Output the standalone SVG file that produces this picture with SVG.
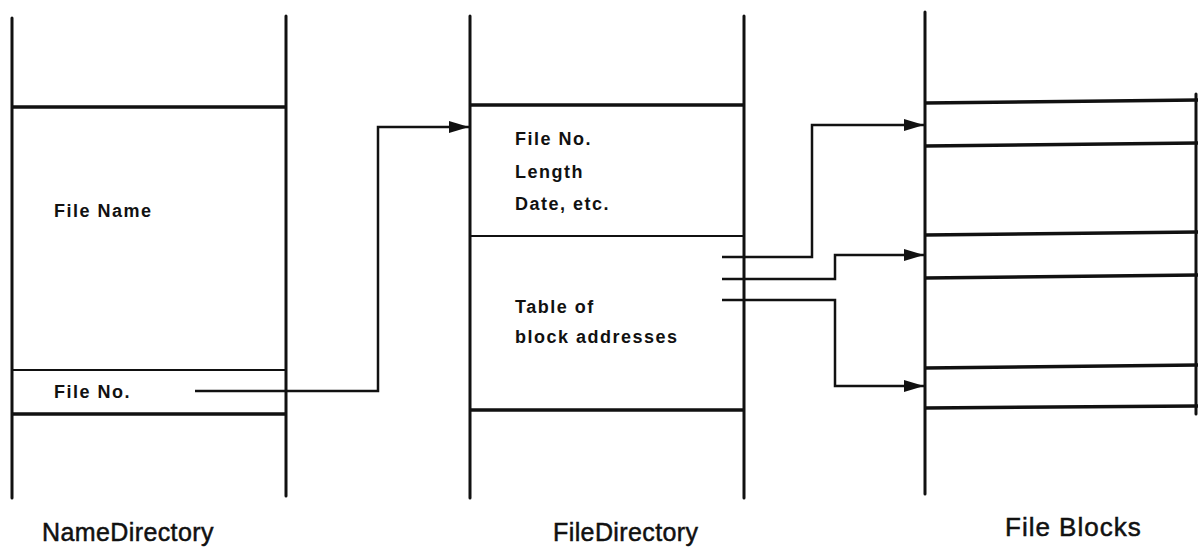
<svg xmlns="http://www.w3.org/2000/svg" width="1198" height="554" viewBox="0 0 1198 554">
<style>
.bg{fill:#fff}
.v{stroke:#111;stroke-width:3;fill:none;stroke-linecap:round}
.hk{stroke:#111;stroke-width:3.5;fill:none}
.hn{stroke:#111;stroke-width:2.2;fill:none}
.c{stroke:#111;stroke-width:2.5;fill:none}
.t{font-family:"Liberation Sans",Arial,sans-serif;font-weight:bold;font-size:18px;letter-spacing:1.5px;fill:#111}
.lbl{font-family:"Liberation Sans",Arial,sans-serif;font-size:25px;letter-spacing:0.4px;fill:#111;stroke:#111;stroke-width:0.5}
</style>
<defs>
<marker id="ah" markerUnits="userSpaceOnUse" markerWidth="22" markerHeight="14" refX="20" refY="6" orient="auto">
<path d="M0,0 L20,6 L0,12 Z" fill="#111"/>
</marker>
</defs>
<rect class="bg" x="0" y="0" width="1198" height="554"/>
<g id="name-directory">
<line class="v" x1="12" y1="18" x2="12" y2="498"/>
<line class="v" x1="286" y1="16" x2="286" y2="496"/>
<line class="hk" x1="12" y1="107" x2="286" y2="107"/>
<line class="hn" x1="12" y1="370" x2="286" y2="370"/>
<line class="hk" x1="12" y1="414" x2="286" y2="414"/>
<text class="t" x="54" y="217">File Name</text>
<text class="t" x="54" y="398">File No.</text>
<text class="lbl" x="42" y="541">NameDirectory</text>
</g>
<g id="file-directory">
<line class="v" x1="470" y1="16" x2="470" y2="498"/>
<line class="v" x1="744" y1="16" x2="744" y2="498"/>
<line class="hk" x1="470" y1="105" x2="744" y2="105"/>
<line class="hn" x1="470" y1="236" x2="744" y2="236"/>
<line class="hk" x1="470" y1="410" x2="744" y2="410"/>
<text class="t" x="515" y="145">File No.</text>
<text class="t" x="515" y="178">Length</text>
<text class="t" x="515" y="210">Date, etc.</text>
<text class="t" x="515" y="313">Table of</text>
<text class="t" x="515" y="343">block addresses</text>
<text class="lbl" x="553" y="541">FileDirectory</text>
</g>
<g id="file-blocks">
<line class="v" x1="925" y1="12" x2="925" y2="494"/>
<line class="v" x1="1196" y1="94" x2="1196" y2="414"/>
<line class="hk" x1="925" y1="103" x2="1198" y2="100"/>
<line class="hk" x1="925" y1="146" x2="1198" y2="143"/>
<line class="hk" x1="925" y1="235" x2="1198" y2="232"/>
<line class="hk" x1="925" y1="278" x2="1198" y2="275"/>
<line class="hk" x1="925" y1="368" x2="1198" y2="365"/>
<line class="hk" x1="925" y1="408" x2="1198" y2="406"/>
<text class="lbl" x="1005" y="536" style="font-size:26px;letter-spacing:1px">File Blocks</text>
</g>
<g id="connectors">
<polyline class="c" points="195,391 378,391 378,127 469,127" marker-end="url(#ah)"/>
<polyline class="c" points="722,257 812,257 812,125 924,125" marker-end="url(#ah)"/>
<polyline class="c" points="722,279 835,279 835,255 924,255" marker-end="url(#ah)"/>
<polyline class="c" points="722,300 835,300 835,386 924,386" marker-end="url(#ah)"/>
</g>
</svg>
